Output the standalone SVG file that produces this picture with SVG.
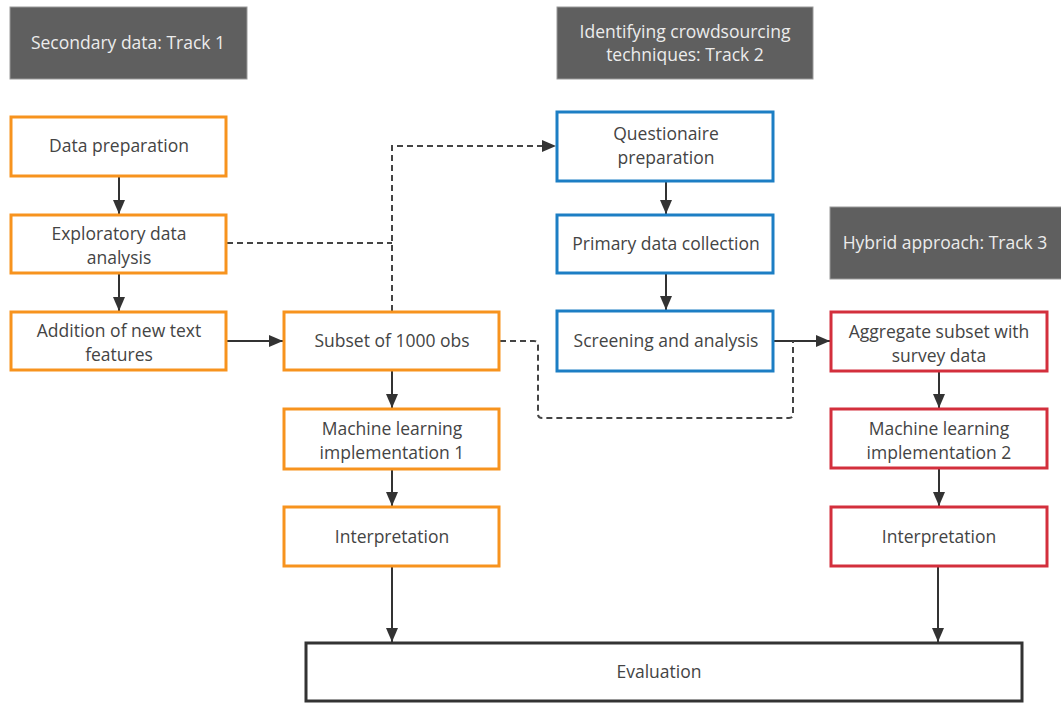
<svg xmlns="http://www.w3.org/2000/svg" width="1061" height="703" viewBox="0 0 1061 703">
<defs>
<marker id="ah" viewBox="0 0 14 14" refX="14" refY="7" markerWidth="14" markerHeight="14" markerUnits="userSpaceOnUse" orient="auto">
<path d="M0,1 L14,7 L0,13 Z" fill="#333"/>
</marker>
<style>
.hdr{fill:#5f5f5f;stroke:#9a9a9a;stroke-width:1}
.ht{fill:#ececec;font-family:"Open Sans","Noto Sans",sans-serif;font-size:17.5px;text-anchor:middle}
.t{fill:#444;font-family:"Open Sans","Noto Sans",sans-serif;font-size:17.5px;text-anchor:middle}
.o{fill:#fff;stroke:#f7931e;stroke-width:3}
.b{fill:#fff;stroke:#1c7ec4;stroke-width:3}
.r{fill:#fff;stroke:#d32f3c;stroke-width:3}
.k{fill:#fff;stroke:#333;stroke-width:3}
.s{fill:none;stroke:#333;stroke-width:2;marker-end:url(#ah)}
.d{fill:none;stroke:#444;stroke-width:2;stroke-dasharray:6,4}
</style>
</defs>
<rect width="1061" height="703" fill="#fff"/>

<g id="header1"><rect class="hdr" x="10" y="7" width="237" height="72"/><text class="ht" x="128" y="49">Secondary data: Track 1</text></g>
<g id="header2"><rect class="hdr" x="557" y="7" width="256" height="72"/><text class="ht" x="685" y="38">Identifying crowdsourcing</text><text class="ht" x="685" y="61">techniques: Track 2</text></g>
<g id="header3"><rect class="hdr" x="830" y="207" width="232" height="72"/><text class="ht" x="945" y="249">Hybrid approach: Track 3</text></g>

<g id="connectors">
<line class="s" x1="119" y1="177" x2="119" y2="214"/>
<line class="s" x1="119" y1="274" x2="119" y2="311"/>
<line class="s" x1="227" y1="341" x2="283" y2="341"/>
<line class="s" x1="392" y1="371" x2="392" y2="408"/>
<line class="s" x1="392" y1="470" x2="392" y2="506"/>
<line class="s" x1="392" y1="567" x2="392" y2="642"/>
<line class="s" x1="666" y1="182" x2="666" y2="214"/>
<line class="s" x1="666" y1="274" x2="666" y2="310"/>
<line class="s" x1="774" y1="341" x2="830" y2="341"/>
<line class="s" x1="939" y1="372" x2="939" y2="408"/>
<line class="s" x1="939" y1="469" x2="939" y2="506"/>
<line class="s" x1="938" y1="567" x2="938" y2="642"/>
<path class="d" d="M227,243 H392"/>
<path class="d" d="M392,311 V146 H546"/>
<path d="M542,140 L556,146 L542,152 Z" fill="#333"/>
<path class="d" d="M500,341 H534 Q538,341 538,345 V414 Q538,418 542,418 H789 Q793,418 793,414 V341"/>
</g>

<g id="n1"><rect class="o" x="11" y="117" width="215" height="59"/><text class="t" x="119" y="152">Data preparation</text></g>
<g id="n2"><rect class="o" x="11" y="215" width="215" height="58"/><text class="t" x="119" y="240">Exploratory data</text><text class="t" x="119" y="264">analysis</text></g>
<g id="n3"><rect class="o" x="11" y="312" width="215" height="58"/><text class="t" x="119" y="337">Addition of new text</text><text class="t" x="119" y="361">features</text></g>
<g id="n4"><rect class="o" x="284" y="312" width="215" height="58"/><text class="t" x="392" y="347">Subset of 1000 obs</text></g>
<g id="n5"><rect class="o" x="284" y="409" width="215" height="60"/><text class="t" x="392" y="435">Machine learning</text><text class="t" x="392" y="459">implementation 1</text></g>
<g id="n6"><rect class="o" x="284" y="507" width="215" height="59"/><text class="t" x="392" y="543">Interpretation</text></g>

<g id="n7"><rect class="b" x="557" y="112" width="216" height="69"/><text class="t" x="666" y="140">Questionaire</text><text class="t" x="666" y="164">preparation</text></g>
<g id="n8"><rect class="b" x="557" y="215" width="216" height="58"/><text class="t" x="666" y="250">Primary data collection</text></g>
<g id="n9"><rect class="b" x="557" y="311" width="216" height="60"/><text class="t" x="666" y="347">Screening and analysis</text></g>

<g id="n10"><rect class="r" x="831" y="312" width="216" height="59"/><text class="t" x="939" y="338">Aggregate subset with</text><text class="t" x="939" y="362">survey data</text></g>
<g id="n11"><rect class="r" x="831" y="409" width="216" height="59"/><text class="t" x="939" y="435">Machine learning</text><text class="t" x="939" y="459">implementation 2</text></g>
<g id="n12"><rect class="r" x="831" y="507" width="216" height="59"/><text class="t" x="939" y="543">Interpretation</text></g>

<g id="n13"><rect class="k" x="306" y="643" width="716" height="58"/><text class="t" x="659" y="678">Evaluation</text></g>
</svg>
